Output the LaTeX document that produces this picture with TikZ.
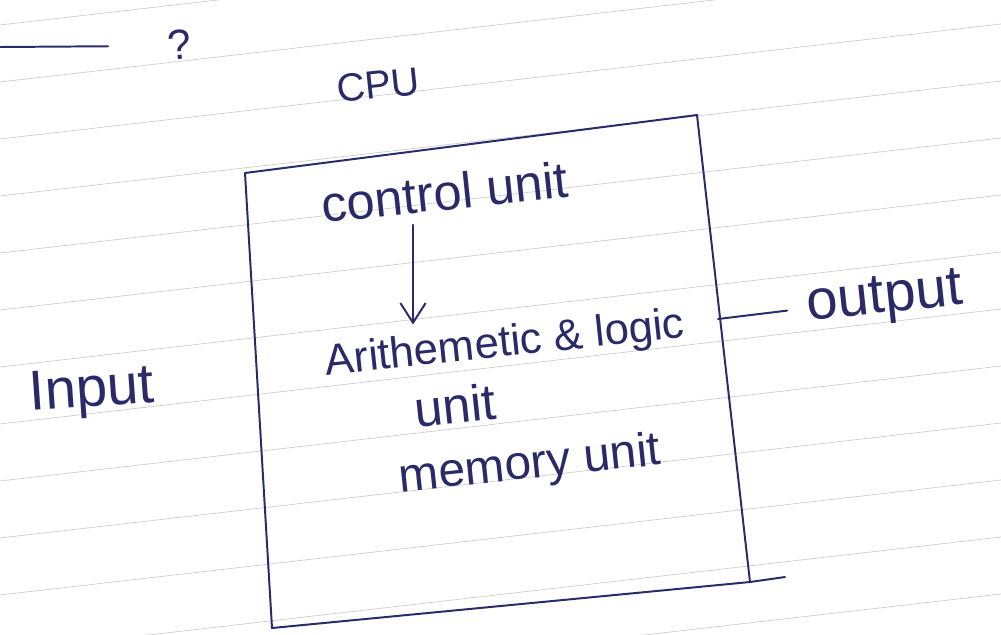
\documentclass[tikz,border=0pt]{standalone}
\usepackage{fontspec}
\setmainfont{Liberation Sans}
\usetikzlibrary{arrows.meta}
\definecolor{ink}{RGB}{42,42,105}
\definecolor{ruling}{RGB}{205,205,210}
\tikzset{
    hand/.style={text=ink, inner sep=0pt, rotate=6, font=\fontsize{34}{36}\selectfont},
    pen/.style={draw=ink, line width=1.4pt, line cap=round, line join=round}
}

\begin{document}
\begin{tikzpicture}[x=0.025cm,y=-0.025cm]
        \useasboundingbox[fill=white] (0,0) rectangle (1001,634);
        \foreach \c in {25,82,...,800}
            \draw[ruling, line width=0.5pt] (0,\c) -- (1001,\c-115);

        \coordinate (tl) at (245,173);
        \coordinate (tr) at (697,115);
        \coordinate (br) at (750,582);
        \coordinate (bl) at (272,628);
        \coordinate (rt) at (718,319);
        \coordinate (tick) at (785,577);
        \coordinate (dash) at (0,47);
        \coordinate (arrowx) at (413,0);

        \draw[pen] (tl) -- (tr) -- (br) -- (bl) -- cycle;
        \draw[pen] (br) -- (tick);

        \node[hand, font=\fontsize{30}{32}\selectfont] (quest) at (180,45) {?};
        \draw[pen] (dash) -- ([xshift=-1.5cm]quest.west);

        \node[hand, font=\fontsize{28}{30}\selectfont] (cpu) at (378,85) {CPU};
        \node[hand, font=\fontsize{36}{38}\selectfont] (control) at (445,192) {control unit};
        \node[hand, font=\fontsize{31}{34}\selectfont] (alu) at (505,345) {Arithemetic \& logic};
        \node[hand, font=\fontsize{36}{38}\selectfont] (aluunit) at (455,405) {unit};
        \node[hand] (memory) at (530,466) {memory unit};
        \node[hand, font=\fontsize{40}{42}\selectfont, rotate=-2] (input) at (92,393) {Input};
        \node[hand, font=\fontsize{40}{42}\selectfont] (output) at (885,300) {output};

        \draw[pen, shorten <=0.35cm, -{Straight Barb[length=14pt,width=18pt]}] (control.south -| arrowx) -- (alu.north -| arrowx);
        \draw[pen, shorten >=0.5cm] (rt) -- (output.west);
    \end{tikzpicture}
\end{document}
